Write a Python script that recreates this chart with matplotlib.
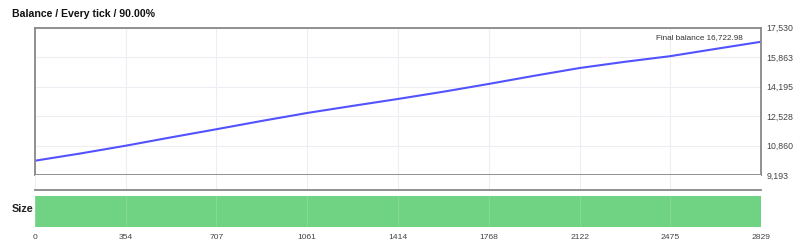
import matplotlib.pyplot as plt
from matplotlib.ticker import FuncFormatter

# balance curve (trade number vs balance)
trades = [0, 177, 354, 530, 707, 884, 1061, 1238, 1414, 1591, 1768, 1945, 2122, 2298, 2475, 2652, 2829]
balance = [10000, 10410, 10850, 11320, 11780, 12250, 12700, 13100, 13490, 13900,
           14340, 14800, 15240, 15590, 15910, 16320, 16722.98]
x_ticks = [0, 354, 707, 1061, 1414, 1768, 2122, 2475, 2829]
y_ticks = [9193, 10860, 12528, 14195, 15863, 17530]
final_balance = 16722.98

plt.rcParams['font.family'] = ['Liberation Sans', 'DejaVu Sans']

fig = plt.figure(figsize=(8, 2.5), dpi=100)
frame_col = '#888888'
grid_col = '#ededf3'
tick_col = '#444444'

# main balance panel
ax = fig.add_axes([0.04375, 0.30, 0.9075, 0.59])
ax.plot(trades, balance, color='#5252ff', lw=1.5)
ax.set_xlim(0, 2829)
ax.set_ylim(9193, 17530)
ax.set_xticks(x_ticks)
ax.set_yticks(y_ticks)
ax.grid(True, color=grid_col, lw=0.8)
ax.yaxis.tick_right()
ax.yaxis.set_major_formatter(FuncFormatter(lambda v, p: f'{v:,.0f}'))
ax.tick_params(axis='y', length=0, pad=4, labelsize=6.3, labelcolor=tick_col)
ax.tick_params(axis='x', length=0, labelbottom=False)
for s in ax.spines.values():
    s.set_color(frame_col)
    s.set_linewidth(1.3)
ax.text(0.975, 0.955, f'Final balance {final_balance:,.2f}', transform=ax.transAxes,
        ha='right', va='top', fontsize=5.9, color='#333333')

fig.text(0.015, 0.945, 'Balance / Every tick / 90.00%', fontsize=7.6,
         fontweight='bold', color='#111111', va='center')

# gap area with grid lines and separator
gap = fig.add_axes([0.04375, 0.24, 0.9075, 0.06])
gap.set_xlim(0, 2829)
gap.set_xticks(x_ticks)
gap.grid(True, axis='x', color=grid_col, lw=0.8)
gap.set_yticks([])
gap.tick_params(axis='x', length=0, labelbottom=False)
for k, s in gap.spines.items():
    s.set_visible(k == 'bottom')
gap.spines['bottom'].set_color(frame_col)
gap.spines['bottom'].set_linewidth(1.3)

# size panel
ax2 = fig.add_axes([0.04375, 0.092, 0.9075, 0.124])
ax2.fill_between(trades, 0, 1, color='#6fd383', lw=0)
ax2.set_xlim(0, 2829)
ax2.set_ylim(0, 1)
ax2.set_xticks(x_ticks)
ax2.set_yticks([])
ax2.grid(True, axis='x', color='#ffffff', alpha=0.15, lw=0.8)
ax2.tick_params(axis='x', length=0, pad=5, labelsize=6.1, labelcolor=tick_col)
for s in ax2.spines.values():
    s.set_visible(False)
fig.text(0.015, 0.165, 'Size', fontsize=7.8, fontweight='bold', color='#222222', va='center')

plt.savefig('out.png', dpi=100)
